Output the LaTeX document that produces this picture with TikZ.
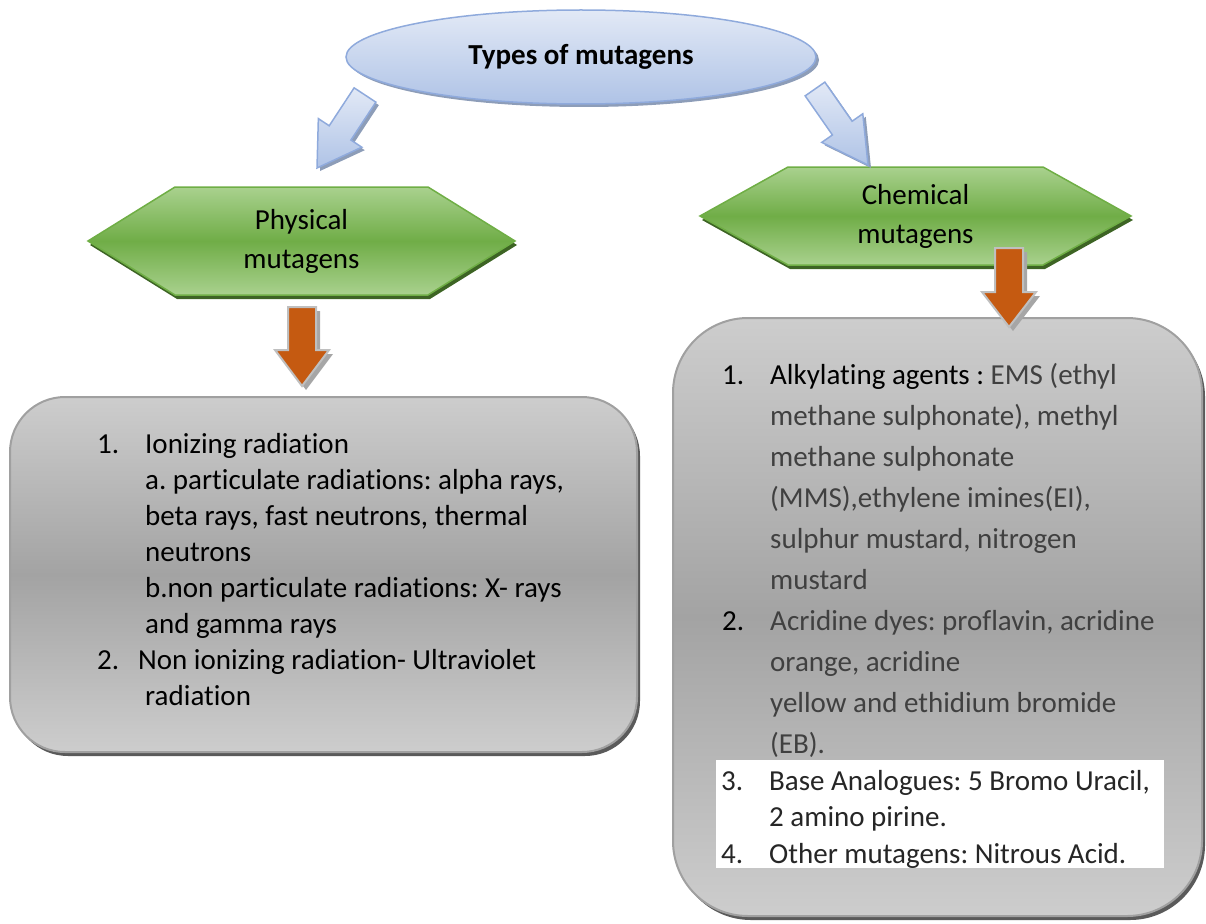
\documentclass[tikz,border=0pt]{standalone}
\usepackage{fontspec}
\setmainfont{Carlito}[Ligatures=NoCommon]
\frenchspacing
\usetikzlibrary{calc,shapes.geometric,shadows}
\definecolor{ellTop}{HTML}{E2E9F6}
\definecolor{ellBot}{HTML}{AFC3E6}
\definecolor{ellBorder}{HTML}{8FAADC}
\definecolor{ellShadow}{HTML}{8D9DB8}
\definecolor{hexLight}{HTML}{A9D18E}
\definecolor{hexMid}{HTML}{70AD47}
\definecolor{hexBorder}{HTML}{6FAE45}
\definecolor{hexShadow}{HTML}{3D6424}
\definecolor{boxLight}{HTML}{CDCDCD}
\definecolor{boxMid}{HTML}{A3A3A3}
\definecolor{boxBorder}{HTML}{A0A0A0}
\definecolor{boxShadow}{HTML}{5A5A5A}
\definecolor{arrOrange}{HTML}{C55A11}
\definecolor{arrBorder}{HTML}{BFBFBF}
\definecolor{arrShadow}{HTML}{A6A6A6}
\definecolor{txtgray}{HTML}{404040}
\definecolor{txtdark}{HTML}{262626}
\newcommand\blockarr[6]{%
  \coordinate (baC) at ($(#3)!#6!(#2)$);
  \path[#1] ($(#2)!#4!90:(#3)$) -- ($(baC)!#4!90:(#3)$) -- ($(baC)!#5!90:(#3)$) -- (#3)
    -- ($(baC)!#5!-90:(#3)$) -- ($(baC)!#4!-90:(#3)$) -- ($(#2)!#4!-90:(#3)$) -- cycle;}
\newcommand\hexa[5]{%
  \path[#1] ($(#2)+(-#3,0)$) -- ($(#2)+(-#3+#4,-#5)$) -- ($(#2)+(#3-#4,-#5)$) -- ($(#2)+(#3,0)$)
    -- ($(#2)+(#3-#4,#5)$) -- ($(#2)+(-#3+#4,#5)$) -- cycle;}
\tikzset{
  titleell/.style={ellipse, draw=ellBorder, line width=1.5pt, top color=ellTop, bottom color=ellBot,
    minimum width=470pt, minimum height=94pt, inner sep=0,
    drop shadow={shadow xshift=3pt, shadow yshift=-3pt, fill=ellShadow, opacity=1}},
  hexshape/.style={draw=hexBorder, line width=1.5pt, top color=hexLight, bottom color=hexLight, middle color=hexMid,
    drop shadow={shadow xshift=2pt, shadow yshift=-4pt, fill=hexShadow, opacity=1}},
  hextext/.style={align=center, font=\fontsize{29}{39}\selectfont, inner sep=0},
  graybox/.style={draw=boxBorder, line width=2pt, top color=boxLight, bottom color=boxLight, middle color=boxMid,
    inner sep=0, drop shadow={shadow xshift=3pt, shadow yshift=-4pt, fill=boxShadow, opacity=1}},
  orangearr/.style={draw=arrBorder, line width=2pt, fill=arrOrange,
    drop shadow={shadow xshift=4pt, shadow yshift=-4pt, fill=arrShadow, opacity=1}},
  bluearr/.style={draw=ellBorder, line width=1.5pt, top color=ellTop, bottom color=ellBot,
    drop shadow={shadow xshift=3pt, shadow yshift=-3pt, fill=ellShadow, opacity=1}},
  listtext/.style={anchor=base west, inner sep=0, text=black},
}
\begin{document}
\begin{tikzpicture}[x=1pt,y=-1pt]
\useasboundingbox (0,0) rectangle (1206,923);
% title
\node[titleell, font=\fontsize{29}{35}\selectfont\bfseries] (title) at (581,57) {Types of mutagens};
% hexagons
\coordinate (physc) at (301.5,241);
\hexa{hexshape}{physc}{213.5}{87}{54}
\node[hextext] (phys) at (physc) {Physical\\mutagens};
\coordinate (chemc) at (915.5,216);
\hexa{hexshape}{chemc}{215.5}{88}{49}
\node[hextext] (chem) at (chemc) {Chemical\\mutagens};
% blue arrows
\coordinate (bL1) at (365,95); \coordinate (bL2) at (317,168);
\blockarr{bluearr}{bL1}{bL2}{13pt}{26pt}{42pt}
\coordinate (bR1) at (815,89); \coordinate (bR2) at (868,165);
\blockarr{bluearr}{bR1}{bR2}{12pt}{25pt}{45pt}
% boxes
\node[graybox, rounded corners=55pt, minimum width=627pt, minimum height=355pt] (lbox) at (323.5,574.5) {};
\node[graybox, rounded corners=75pt, minimum width=529pt, minimum height=598pt] (rbox) at (937.5,617) {};
\node[fill=white, minimum width=448pt, minimum height=108pt, inner sep=0] (hl) at (940,814) {};
% orange arrows
\coordinate (oL1) at (302,307); \coordinate (oL2) at (302,386);
\blockarr{orangearr}{oL1}{oL2}{14pt}{27pt}{36pt}
\coordinate (oR1) at (1009,248); \coordinate (oR2) at (1009,327);
\blockarr{orangearr}{oR1}{oR2}{14pt}{27pt}{35pt}
% texts
\node[listtext] (ltext) at (97,453) {\fontsize{29}{36}\selectfont\begin{tabular}[t]{@{}l@{}l@{}}
\makebox[48pt][l]{1.} & Ionizing radiation\\
 & a. particulate radiations: alpha rays,\\
 & beta rays, fast neutrons, thermal\\
 & neutrons\\
 & b.non particulate radiations: X- rays\\
 & and gamma rays\\
2. & \hspace{-7pt}Non ionizing radiation- Ultraviolet\\
 & radiation
\end{tabular}};
\node[listtext] (rtext1) at (722,384) {\fontsize{29}{41}\selectfont\begin{tabular}[t]{@{}l@{}l@{}}
\makebox[48pt][l]{1.} & Alkylating agents : {\color{txtgray}EMS (ethyl}\\
 & \color{txtgray}methane sulphonate), methyl\\
 & \color{txtgray}methane sulphonate\\
 & \color{txtgray}(MMS),ethylene imines(EI),\\
 & \color{txtgray}sulphur mustard, nitrogen\\
 & \color{txtgray}mustard\\
2. & \color{txtgray}Acridine dyes: proflavin, acridine\\
 & \color{txtgray}orange, acridine\\
 & \color{txtgray}yellow and ethidium bromide\\
 & \color{txtgray}(EB).
\end{tabular}};
\node[listtext, text=txtdark] (rtext2) at (721,790) {\fontsize{29}{36.5}\selectfont\begin{tabular}[t]{@{}l@{}l@{}}
\makebox[48pt][l]{3.} & Base Analogues: 5 Bromo Uracil,\\
 & 2 amino pirine.\\
4. & Other mutagens: Nitrous Acid.
\end{tabular}};
\end{tikzpicture}
\end{document}
